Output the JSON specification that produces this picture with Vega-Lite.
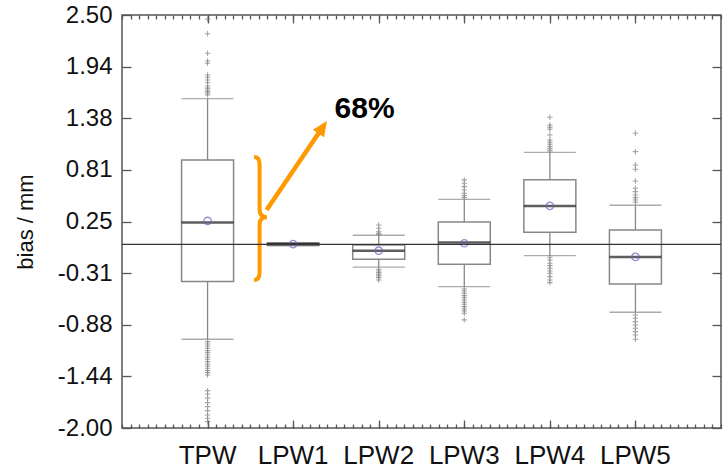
{
  "$schema": "https://vega.github.io/schema/vega-lite/v6.json",
  "width": 599,
  "height": 413,
  "autosize": "none",
  "padding": {"left": 122, "top": 15, "right": 2, "bottom": 41},
  "background": "white",
  "config": {
    "view": {"stroke": "#555", "strokeWidth": 1.5},
    "font": "Liberation Sans",
    "axis": {"labelColor": "#111", "titleColor": "#111", "tickColor": "#555", "tickWidth": 1.3, "grid": false, "domain": false}
  },
  "datasets": {
    "boxes": [
      {"name": "TPW", "lower": -1.033, "q1": -0.405, "median": 0.238, "q3": 0.92, "upper": 1.588, "mean": 0.256},
      {"name": "LPW1", "lower": -0.015, "q1": -0.008, "median": 0.004, "q3": 0.012, "upper": 0.02, "mean": 0.004},
      {"name": "LPW2", "lower": -0.248, "q1": -0.161, "median": -0.068, "q3": -0.005, "upper": 0.1, "mean": -0.068},
      {"name": "LPW3", "lower": -0.46, "q1": -0.216, "median": 0.02, "q3": 0.245, "upper": 0.492, "mean": 0.013},
      {"name": "LPW4", "lower": -0.122, "q1": 0.133, "median": 0.419, "q3": 0.706, "upper": 1.004, "mean": 0.42},
      {"name": "LPW5", "lower": -0.739, "q1": -0.43, "median": -0.136, "q3": 0.158, "upper": 0.427, "mean": -0.136}
    ],
    "outliers": [
      {"name": "TPW", "value": 2.453}, {"name": "TPW", "value": 2.296}, {"name": "TPW", "value": 2.083},
      {"name": "TPW", "value": 1.999}, {"name": "TPW", "value": 1.974}, {"name": "TPW", "value": 1.846},
      {"name": "TPW", "value": 1.821}, {"name": "TPW", "value": 1.792}, {"name": "TPW", "value": 1.762},
      {"name": "TPW", "value": 1.726}, {"name": "TPW", "value": 1.703}, {"name": "TPW", "value": 1.683},
      {"name": "TPW", "value": 1.665}, {"name": "TPW", "value": 1.647}, {"name": "TPW", "value": 1.629},
      {"name": "TPW", "value": -1.059}, {"name": "TPW", "value": -1.084}, {"name": "TPW", "value": -1.106},
      {"name": "TPW", "value": -1.131}, {"name": "TPW", "value": -1.157}, {"name": "TPW", "value": -1.179},
      {"name": "TPW", "value": -1.204}, {"name": "TPW", "value": -1.229}, {"name": "TPW", "value": -1.251},
      {"name": "TPW", "value": -1.277}, {"name": "TPW", "value": -1.302}, {"name": "TPW", "value": -1.324},
      {"name": "TPW", "value": -1.349}, {"name": "TPW", "value": -1.375}, {"name": "TPW", "value": -1.397},
      {"name": "TPW", "value": -1.422}, {"name": "TPW", "value": -1.593}, {"name": "TPW", "value": -1.629},
      {"name": "TPW", "value": -1.675}, {"name": "TPW", "value": -1.723}, {"name": "TPW", "value": -1.767},
      {"name": "TPW", "value": -1.811}, {"name": "TPW", "value": -1.858}, {"name": "TPW", "value": -1.894},
      {"name": "TPW", "value": -1.93},
      {"name": "LPW2", "value": 0.212}, {"name": "LPW2", "value": 0.176}, {"name": "LPW2", "value": 0.139},
      {"name": "LPW2", "value": 0.122}, {"name": "LPW2", "value": 0.108},
      {"name": "LPW2", "value": -0.27}, {"name": "LPW2", "value": -0.289}, {"name": "LPW2", "value": -0.307},
      {"name": "LPW2", "value": -0.325}, {"name": "LPW2", "value": -0.343}, {"name": "LPW2", "value": -0.362},
      {"name": "LPW2", "value": -0.387},
      {"name": "LPW3", "value": 0.703}, {"name": "LPW3", "value": 0.667}, {"name": "LPW3", "value": 0.63},
      {"name": "LPW3", "value": 0.594}, {"name": "LPW3", "value": 0.557}, {"name": "LPW3", "value": 0.532},
      {"name": "LPW3", "value": 0.51},
      {"name": "LPW3", "value": -0.485}, {"name": "LPW3", "value": -0.507}, {"name": "LPW3", "value": -0.532},
      {"name": "LPW3", "value": -0.558}, {"name": "LPW3", "value": -0.58}, {"name": "LPW3", "value": -0.605},
      {"name": "LPW3", "value": -0.63}, {"name": "LPW3", "value": -0.652}, {"name": "LPW3", "value": -0.678},
      {"name": "LPW3", "value": -0.703}, {"name": "LPW3", "value": -0.725}, {"name": "LPW3", "value": -0.75},
      {"name": "LPW3", "value": -0.822},
      {"name": "LPW4", "value": 1.386}, {"name": "LPW4", "value": 1.302}, {"name": "LPW4", "value": 1.277},
      {"name": "LPW4", "value": 1.255}, {"name": "LPW4", "value": 1.193}, {"name": "LPW4", "value": 1.138},
      {"name": "LPW4", "value": 1.113}, {"name": "LPW4", "value": 1.091}, {"name": "LPW4", "value": 1.066},
      {"name": "LPW4", "value": 1.041}, {"name": "LPW4", "value": 1.019},
      {"name": "LPW4", "value": -0.139}, {"name": "LPW4", "value": -0.169}, {"name": "LPW4", "value": -0.205},
      {"name": "LPW4", "value": -0.231}, {"name": "LPW4", "value": -0.259}, {"name": "LPW4", "value": -0.289},
      {"name": "LPW4", "value": -0.314}, {"name": "LPW4", "value": -0.351}, {"name": "LPW4", "value": -0.387},
      {"name": "LPW4", "value": -0.416},
      {"name": "LPW5", "value": 1.211}, {"name": "LPW5", "value": 1.011}, {"name": "LPW5", "value": 0.866},
      {"name": "LPW5", "value": 0.819}, {"name": "LPW5", "value": 0.692}, {"name": "LPW5", "value": 0.612},
      {"name": "LPW5", "value": 0.575}, {"name": "LPW5", "value": 0.539}, {"name": "LPW5", "value": 0.51},
      {"name": "LPW5", "value": 0.485}, {"name": "LPW5", "value": 0.46},
      {"name": "LPW5", "value": -0.768}, {"name": "LPW5", "value": -0.804}, {"name": "LPW5", "value": -0.841},
      {"name": "LPW5", "value": -0.877}, {"name": "LPW5", "value": -0.913}, {"name": "LPW5", "value": -0.95},
      {"name": "LPW5", "value": -0.986}, {"name": "LPW5", "value": -1.033}
    ]
  },
  "layer": [
    {
      "data": {"values": [{"t": 0, "v": -2}, {"t": 7, "v": 2.5}]},
      "mark": {"type": "point", "opacity": 0},
      "encoding": {
        "x": {"field": "t", "type": "quantitative", "scale": {"domain": [0, 7], "nice": false, "zero": false},
          "axis": {"orient": "bottom", "labels": false, "title": null, "tickSize": 4, "offset": -4,
            "values": [0,0.1,0.2,0.3,0.4,0.5,0.6,0.7,0.8,0.9,1,1.1,1.2,1.3,1.4,1.5,1.6,1.7,1.8,1.9,2,2.1,2.2,2.3,2.4,2.5,2.6,2.7,2.8,2.9,3,3.1,3.2,3.3,3.4,3.5,3.6,3.7,3.8,3.9,4,4.1,4.2,4.3,4.4,4.5,4.6,4.7,4.8,4.9,5,5.1,5.2,5.3,5.4,5.5,5.6,5.7,5.8,5.9,6,6.1,6.2,6.3,6.4,6.5,6.6,6.7,6.8,6.9,7]}},
        "y": {"field": "v", "type": "quantitative", "scale": {"domain": [-2, 2.5], "nice": false, "zero": false},
          "axis": {"orient": "left", "labels": false, "title": null, "tickSize": 9, "offset": -9,
            "values": [-2, -1.4375, -0.875, -0.3125, 0.25, 0.8125, 1.375, 1.9375, 2.5]}}
      }
    },
    {
      "data": {"values": [{"t": 0, "v": -2}, {"t": 7, "v": 2.5}]},
      "mark": {"type": "point", "opacity": 0},
      "encoding": {
        "x": {"field": "t", "type": "quantitative", "scale": {"domain": [0, 7], "nice": false, "zero": false},
          "axis": {"orient": "top", "labels": false, "title": null, "tickSize": 4, "offset": -4,
            "values": [0,0.1,0.2,0.3,0.4,0.5,0.6,0.7,0.8,0.9,1,1.1,1.2,1.3,1.4,1.5,1.6,1.7,1.8,1.9,2,2.1,2.2,2.3,2.4,2.5,2.6,2.7,2.8,2.9,3,3.1,3.2,3.3,3.4,3.5,3.6,3.7,3.8,3.9,4,4.1,4.2,4.3,4.4,4.5,4.6,4.7,4.8,4.9,5,5.1,5.2,5.3,5.4,5.5,5.6,5.7,5.8,5.9,6,6.1,6.2,6.3,6.4,6.5,6.6,6.7,6.8,6.9,7]}},
        "y": {"field": "v", "type": "quantitative", "scale": {"domain": [-2, 2.5], "nice": false, "zero": false},
          "axis": {"orient": "right", "labels": false, "title": null, "tickSize": 9, "offset": -9,
            "values": [-2, -1.4375, -0.875, -0.3125, 0.25, 0.8125, 1.375, 1.9375, 2.5]}}
      }
    },
    {
      "data": {"values": [{"t": 0}, {"t": 7}]},
      "mark": {"type": "point", "opacity": 0},
      "encoding": {
        "x": {"field": "t", "type": "quantitative", "scale": {"domain": [0, 7], "nice": false, "zero": false},
          "axis": {"orient": "bottom", "labels": false, "title": null, "tickSize": 8, "offset": -8, "values": [1, 2, 3, 4, 5, 6]}}
      }
    },
    {
      "data": {"values": [{"t": 0}, {"t": 7}]},
      "mark": {"type": "point", "opacity": 0},
      "encoding": {
        "x": {"field": "t", "type": "quantitative", "scale": {"domain": [0, 7], "nice": false, "zero": false},
          "axis": {"orient": "top", "labels": false, "title": null, "tickSize": 8, "offset": -8, "values": [1, 2, 3, 4, 5, 6]}}
      }
    },
    {
      "encoding": {
        "x": {
          "field": "name", "type": "nominal",
          "scale": {"type": "band", "domain": ["TPW", "LPW1", "LPW2", "LPW3", "LPW4", "LPW5"], "paddingInner": 0, "paddingOuter": 0.5},
          "axis": {"orient": "bottom", "ticks": false, "labelAngle": 0, "labelFontSize": 26, "labelPadding": 14, "title": null}
        }
      },
      "layer": [
        {
          "data": {"name": "outliers"},
          "mark": {"type": "point", "shape": "M-1,0H1M0,-1V1", "size": 30, "stroke": "#808080", "strokeWidth": 1.1, "filled": false},
          "encoding": {
            "y": {"field": "value", "type": "quantitative", "scale": {"domain": [-2, 2.5], "nice": false, "zero": false},
              "axis": {"orient": "left", "values": [-2, -1.4375, -0.875, -0.3125, 0.25, 0.8125, 1.375, 1.9375, 2.5],
                "labelExpr": "replace(format(datum.value, '.2f'), '\u2212', '-')",
                "ticks": false, "labelFontSize": 24, "labelPadding": 10, "title": "bias / mm", "titleFontSize": 22, "titleFontWeight": "normal", "titlePadding": 20}}
          }
        },
        {
          "data": {"name": "boxes"},
          "mark": {"type": "rule", "color": "#888", "strokeWidth": 1.3},
          "encoding": {"y": {"field": "lower", "type": "quantitative"}, "y2": {"field": "q1"}}
        },
        {
          "data": {"name": "boxes"},
          "mark": {"type": "rule", "color": "#888", "strokeWidth": 1.3},
          "encoding": {"y": {"field": "q3", "type": "quantitative"}, "y2": {"field": "upper"}}
        },
        {
          "data": {"name": "boxes"},
          "mark": {"type": "tick", "color": "#888", "thickness": 1.3, "size": 52, "orient": "horizontal"},
          "encoding": {"y": {"field": "lower", "type": "quantitative"}}
        },
        {
          "data": {"name": "boxes"},
          "mark": {"type": "tick", "color": "#888", "thickness": 1.3, "size": 52, "orient": "horizontal"},
          "encoding": {"y": {"field": "upper", "type": "quantitative"}}
        },
        {
          "data": {"name": "boxes"},
          "mark": {"type": "bar", "fill": "white", "stroke": "#888", "strokeWidth": 1.5, "size": 52},
          "encoding": {"y": {"field": "q1", "type": "quantitative"}, "y2": {"field": "q3"}}
        },
        {
          "data": {"name": "boxes"},
          "mark": {"type": "tick", "color": "#1a1a1a", "thickness": 2.5, "size": 52, "orient": "horizontal"},
          "encoding": {"y": {"field": "median", "type": "quantitative"}}
        },
        {
          "data": {"name": "boxes"},
          "mark": {"type": "point", "shape": "circle", "size": 55, "stroke": "#6a5cc4", "strokeWidth": 1.3, "filled": false},
          "encoding": {"y": {"field": "mean", "type": "quantitative"}}
        },
        {
          "data": {"values": [{"name": "TPW", "center": 0.283}]},
          "mark": {"type": "point", "shape": "M-0.09,-1Q0,-1 0,-0.88L0,-0.14Q0,-0.02 0.12,-0.02Q0,-0.02 0,0.1L0,0.88Q0,1 -0.09,1", "size": 15129, "stroke": "#FF9900", "strokeWidth": 4, "filled": false, "opacity": 1, "xOffset": 52},
          "encoding": {"y": {"field": "center", "type": "quantitative"}}
        },
        {
          "data": {"values": [{"name": "TPW", "from": 0.376, "to": 1.255}]},
          "mark": {"type": "rule", "color": "#FF9900", "strokeWidth": 4.5, "xOffset": 59, "x2Offset": 113.7},
          "encoding": {"x2": {"field": "name"}, "y": {"field": "from", "type": "quantitative"}, "y2": {"field": "to"}}
        },
        {
          "data": {"values": [{"name": "TPW", "tip": 1.345}]},
          "mark": {"type": "point", "shape": "M0,0L0.45,1L-0.45,1Z", "size": 900, "fill": "#FF9900", "filled": true, "opacity": 1, "angle": 34, "xOffset": 119.3},
          "encoding": {"y": {"field": "tip", "type": "quantitative"}}
        },
        {
          "data": {"values": [{"name": "TPW", "label": "68%", "at": 1.378}]},
          "mark": {"type": "text", "align": "left", "baseline": "alphabetic", "dx": 127, "fontSize": 30, "fontWeight": "bold", "color": "#000"},
          "encoding": {"y": {"field": "at", "type": "quantitative"}, "text": {"field": "label"}}
        }
      ]
    },
    {
      "data": {"values": [{"zero": 0}]},
      "mark": {"type": "rule", "color": "#333", "strokeWidth": 1.3},
      "encoding": {"y": {"field": "zero", "type": "quantitative", "scale": {"domain": [-2, 2.5], "nice": false, "zero": false}, "axis": null}}
    }
  ],
  "resolve": {"scale": {"x": "independent", "y": "independent"}}
}
